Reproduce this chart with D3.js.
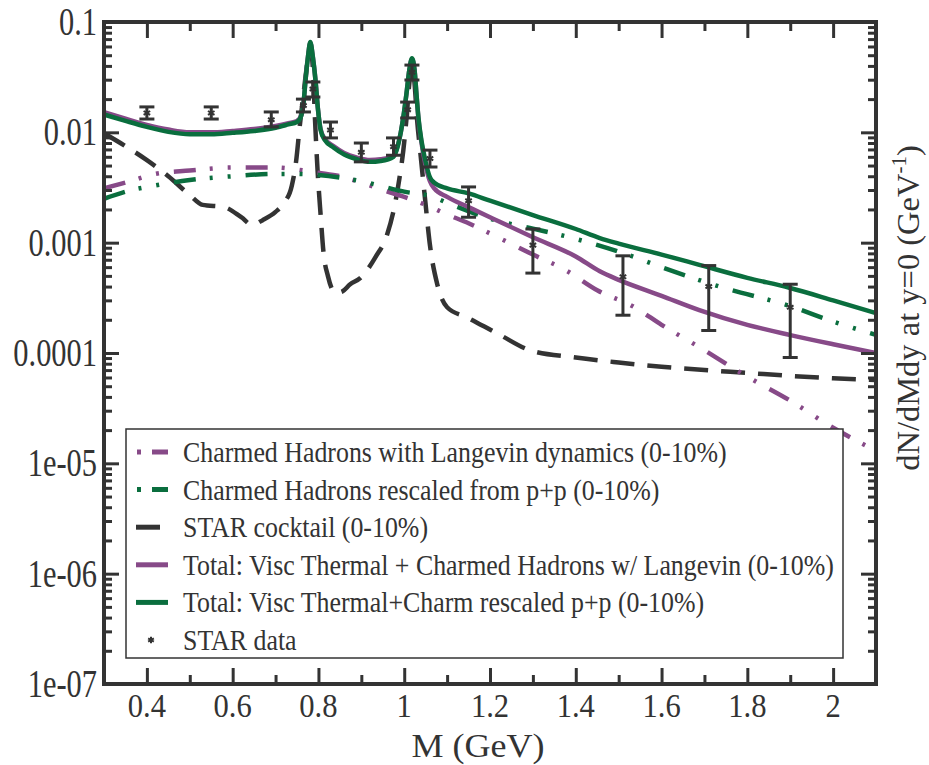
<!DOCTYPE html>
<html>
<head>
<meta charset="utf-8">
<script src="https://cdn.jsdelivr.net/npm/d3@7"></script>
<style>
  body { margin: 0; background: #fff; }
  text { font-family: "Liberation Serif", "Times New Roman", serif; fill: #333; }
</style>
</head>
<body>
<svg id="chart" width="929" height="765"></svg>
<script>
// Dilepton invariant-mass spectra, 0-10% centrality: [M (GeV), dN/dMdy]

const totalLangevin = [
  [0.30, 0.0152], [0.35, 0.0133], [0.40, 0.0117], [0.45, 0.0106], [0.50, 0.0100],
  [0.55, 0.0100], [0.60, 0.0103], [0.65, 0.0107], [0.70, 0.0114], [0.73, 0.0121],
  [0.75, 0.0127], [0.758, 0.0137], [0.765, 0.018], [0.770, 0.030], [0.776, 0.050],
  [0.781, 0.065], [0.787, 0.048], [0.793, 0.030], [0.799, 0.016], [0.805, 0.0107],
  [0.815, 0.0087], [0.835, 0.0075], [0.86, 0.0065], [0.89, 0.0059], [0.92, 0.0056],
  [0.945, 0.0057], [0.975, 0.0061], [0.985, 0.0076], [0.992, 0.0100], [0.998, 0.0138],
  [1.005, 0.022], [1.012, 0.037], [1.018, 0.046], [1.024, 0.037], [1.029, 0.021],
  [1.033, 0.0135], [1.04, 0.0082], [1.049, 0.0052], [1.06, 0.0036], [1.07, 0.0031],
  [1.10, 0.0026], [1.15, 0.0021], [1.20, 0.0017], [1.30, 0.00112], [1.40, 0.00075],
  [1.456, 0.00055], [1.50, 0.00046], [1.60, 0.00033], [1.688, 0.000245], [1.80, 0.00018],
  [1.898, 0.000146], [2.00, 0.00012], [2.10, 0.0001]
];

const totalRescaled = [
  [0.30, 0.0145], [0.35, 0.0127], [0.40, 0.0112], [0.45, 0.0101], [0.50, 0.0096],
  [0.55, 0.0096], [0.60, 0.0099], [0.65, 0.0103], [0.70, 0.0110], [0.73, 0.0118],
  [0.75, 0.0124], [0.758, 0.0135], [0.765, 0.018], [0.770, 0.030], [0.776, 0.050],
  [0.781, 0.066], [0.787, 0.048], [0.793, 0.030], [0.799, 0.016], [0.805, 0.0105],
  [0.815, 0.0085], [0.835, 0.0073], [0.86, 0.0063], [0.89, 0.0057], [0.92, 0.0054],
  [0.945, 0.0055], [0.975, 0.0060], [0.985, 0.0075], [0.992, 0.0100], [0.998, 0.0138],
  [1.005, 0.022], [1.012, 0.037], [1.018, 0.047], [1.024, 0.037], [1.029, 0.021],
  [1.033, 0.0138], [1.04, 0.0085], [1.049, 0.0056], [1.06, 0.0039], [1.07, 0.0035],
  [1.10, 0.0031], [1.15, 0.0028], [1.20, 0.0024], [1.30, 0.00178], [1.40, 0.00133],
  [1.456, 0.0011], [1.50, 0.00098], [1.60, 0.00078], [1.688, 0.00063], [1.80, 0.00048],
  [1.898, 0.00039], [2.00, 0.0003], [2.10, 0.00023]
];

const charmLangevin = [
  [0.30, 0.0031], [0.35, 0.0035], [0.42, 0.0042], [0.50, 0.0045], [0.60, 0.0048],
  [0.70, 0.0048], [0.75, 0.0046], [0.80, 0.0043], [0.85, 0.0040], [0.90, 0.0035],
  [0.95, 0.0030], [1.00, 0.0026], [1.05, 0.0022], [1.10, 0.0018], [1.15, 0.0015],
  [1.212, 0.00115], [1.30, 0.00078], [1.374, 0.00057], [1.45, 0.00037], [1.537, 0.00026],
  [1.60, 0.00018], [1.688, 0.000113], [1.80, 0.000061], [1.90, 0.000037], [2.00, 0.000021],
  [2.10, 0.000013]
];

const charmRescaled = [
  [0.30, 0.0025], [0.35, 0.0029], [0.42, 0.0033], [0.50, 0.0037], [0.60, 0.0040],
  [0.70, 0.0042], [0.75, 0.0042], [0.80, 0.0041], [0.90, 0.0036], [1.00, 0.0029],
  [1.067, 0.0026], [1.10, 0.0023], [1.212, 0.0016], [1.30, 0.00134], [1.393, 0.0011],
  [1.537, 0.00074], [1.60, 0.00060], [1.735, 0.0004], [1.898, 0.000267], [2.00, 0.000193],
  [2.10, 0.000146]
];

const cocktail = [
  [0.30, 0.0098], [0.35, 0.0075], [0.40, 0.0056], [0.45, 0.0040], [0.50, 0.0027],
  [0.53, 0.0022], [0.58, 0.0021], [0.62, 0.0017], [0.645, 0.00145], [0.67, 0.0016],
  [0.70, 0.0019], [0.72, 0.0023], [0.738, 0.0033], [0.748, 0.0055], [0.756, 0.011],
  [0.765, 0.022], [0.774, 0.042], [0.781, 0.058], [0.787, 0.038], [0.792, 0.013],
  [0.798, 0.0045], [0.805, 0.0018], [0.812, 0.0008], [0.822, 0.0005], [0.84, 0.00035],
  [0.855, 0.00036], [0.874, 0.00042], [0.898, 0.00048], [0.933, 0.00074], [0.96, 0.00118],
  [0.979, 0.0023], [0.99, 0.0041], [0.998, 0.0069], [1.005, 0.013], [1.012, 0.028],
  [1.018, 0.040], [1.024, 0.028], [1.030, 0.013], [1.037, 0.0069], [1.049, 0.0024],
  [1.06, 0.00095], [1.077, 0.00042], [1.10, 0.00026], [1.147, 0.00021], [1.223, 0.000146],
  [1.293, 0.000106], [1.40, 0.000091], [1.50, 0.000082], [1.60, 0.000075], [1.70, 0.00007],
  [1.80, 0.000066], [1.90, 0.000062], [2.00, 0.000059], [2.10, 0.000057]
];

// STAR data: [M, value, low, high]
const starData = [
  [0.400, 0.0150, 0.0132, 0.0170],
  [0.550, 0.0150, 0.0132, 0.0170],
  [0.690, 0.0130, 0.0112, 0.0153],
  [0.765, 0.0175, 0.0153, 0.0200],
  [0.787, 0.0247, 0.0209, 0.0286],
  [0.828, 0.0105, 0.0089, 0.0124],
  [0.900, 0.0066, 0.0054, 0.0080],
  [0.975, 0.0074, 0.0062, 0.0089],
  [1.008, 0.0160, 0.0135, 0.0188],
  [1.018, 0.0350, 0.0298, 0.0407],
  [1.060, 0.0058, 0.00485, 0.0069],
  [1.150, 0.0024, 0.0017, 0.0032],
  [1.300, 0.00095, 0.00053, 0.00133],
  [1.510, 0.00049, 0.00022, 0.00076],
  [1.710, 0.00040, 0.00016, 0.00062],
  [1.900, 0.00026, 0.000091, 0.00042]
];

const xTickValues = [0.4, 0.6, 0.8, 1.0, 1.2, 1.4, 1.6, 1.8, 2.0];
const xTickLabels = ["0.4", "0.6", "0.8", "1", "1.2", "1.4", "1.6", "1.8", "2"];
const xMinorValues = [0.3, 0.5, 0.7, 0.9, 1.1, 1.3, 1.5, 1.7, 1.9, 2.1];
const yTickValues = [0.1, 0.01, 0.001, 0.0001, 1e-5, 1e-6, 1e-7];
const yTickLabels = ["0.1", "0.01", "0.001", "0.0001", "1e-05", "1e-06", "1e-07"];

const legendLabels = [
  "Charmed Hadrons with Langevin dynamics (0-10%)",
  "Charmed Hadrons rescaled from p+p (0-10%)",
  "STAR cocktail (0-10%)",
  "Total: Visc Thermal + Charmed Hadrons w/ Langevin (0-10%)",
  "Total: Visc Thermal+Charm rescaled p+p (0-10%)",
  "STAR data"
];

const PURPLE = "#874a88";
const GREEN = "#0a6e3e";
const DARK = "#333333";

const svg = d3.select("#chart");
const plotL = 104, plotR = 876, plotT = 22, plotB = 684;

const x = d3.scaleLinear().domain([0.3, 2.1]).range([plotL, plotR]);
const y = d3.scaleLog().domain([1e-7, 0.1]).range([plotB, plotT]);

svg.append("defs").append("clipPath").attr("id", "plotClip")
  .append("rect").attr("x", plotL).attr("y", plotT)
  .attr("width", plotR - plotL).attr("height", plotB - plotT);

const line = d3.line()
  .x(d => x(d[0])).y(d => y(d[1]))
  .curve(d3.curveMonotoneX);

const plot = svg.append("g").attr("clip-path", "url(#plotClip)");

const dashDotDot = "22,14,3,15,3,15";
const series = [
  { data: cocktail, color: DARK, dash: "24,13" },
  { data: charmLangevin, color: PURPLE, dash: dashDotDot },
  { data: charmRescaled, color: GREEN, dash: dashDotDot },
  { data: totalLangevin, color: PURPLE, dash: null },
  { data: totalRescaled, color: GREEN, dash: null }
];
series.forEach(s => {
  plot.append("path")
    .attr("d", line(s.data))
    .attr("fill", "none")
    .attr("stroke", s.color)
    .attr("stroke-width", 4.5)
    .attr("stroke-dasharray", s.dash)
    .attr("stroke-linejoin", "round");
});

// Error bars with caps and asterisk markers
const capHalf = 7.5;
const bars = plot.append("g").attr("stroke", DARK).attr("stroke-width", 3);
starData.forEach(d => {
  const cx = x(d[0]);
  bars.append("line").attr("x1", cx).attr("x2", cx).attr("y1", y(d[2])).attr("y2", y(d[3]));
  bars.append("line").attr("x1", cx - capHalf).attr("x2", cx + capHalf).attr("y1", y(d[2])).attr("y2", y(d[2]));
  bars.append("line").attr("x1", cx - capHalf).attr("x2", cx + capHalf).attr("y1", y(d[3])).attr("y2", y(d[3]));
});
const star = d3.symbol().type(d3.symbolAsterisk).size(40);
plot.append("g").selectAll("path").data(starData).join("path")
  .attr("d", star)
  .attr("transform", d => `translate(${x(d[0])},${y(d[1])})`)
  .attr("fill", "none").attr("stroke", DARK).attr("stroke-width", 2);

// Axes with inward ticks on all four sides
const yMinor = [];
for (let e = -7; e <= -2; e++) for (let k = 2; k <= 9; k++) yMinor.push(k * Math.pow(10, e));

function styleAxis(g) {
  g.select(".domain").remove();
  g.selectAll(".tick line").attr("stroke", DARK).attr("stroke-width", 3);
  g.selectAll(".tick text").remove();
}
svg.append("g").attr("transform", `translate(0,${plotB})`)
  .call(d3.axisBottom(x).tickValues(xTickValues).tickSize(-16)).call(styleAxis);
svg.append("g").attr("transform", `translate(0,${plotB})`)
  .call(d3.axisBottom(x).tickValues(xMinorValues).tickSize(-9)).call(styleAxis);
svg.append("g").attr("transform", `translate(0,${plotT})`)
  .call(d3.axisTop(x).tickValues(xTickValues).tickSize(-16)).call(styleAxis);
svg.append("g").attr("transform", `translate(0,${plotT})`)
  .call(d3.axisTop(x).tickValues(xMinorValues).tickSize(-9)).call(styleAxis);
svg.append("g").attr("transform", `translate(${plotL},0)`)
  .call(d3.axisLeft(y).tickValues(yTickValues).tickSize(-15)).call(styleAxis);
svg.append("g").attr("transform", `translate(${plotL},0)`)
  .call(d3.axisLeft(y).tickValues(yMinor).tickSize(-8)).call(styleAxis);
svg.append("g").attr("transform", `translate(${plotR},0)`)
  .call(d3.axisRight(y).tickValues(yTickValues).tickSize(-15)).call(styleAxis);
svg.append("g").attr("transform", `translate(${plotR},0)`)
  .call(d3.axisRight(y).tickValues(yMinor).tickSize(-8)).call(styleAxis);

svg.append("rect").attr("x", plotL).attr("y", plotT)
  .attr("width", plotR - plotL).attr("height", plotB - plotT)
  .attr("fill", "none").attr("stroke", DARK).attr("stroke-width", 4);

// Tick labels (narrow serif)
function label(txt, px, py, size, sx, anchor) {
  svg.append("text")
    .attr("transform", `translate(${px},${py}) scale(${sx},1)`)
    .attr("text-anchor", anchor)
    .attr("font-size", size)
    .text(txt);
}
xTickValues.forEach((v, i) => label(xTickLabels[i], x(v), 717, 34, 0.9, "middle"));
yTickValues.forEach((v, i) => label(yTickLabels[i], 97, y(v) + 13, 39, 0.78, "end"));

label("M (GeV)", (plotL + plotR) / 2 - 12, 757, 34, 1.06, "middle");

const yTitle = svg.append("text")
  .attr("transform", "translate(919,308) rotate(-90)")
  .attr("text-anchor", "middle")
  .attr("font-size", 32.5);
yTitle.append("tspan").text("dN/dMdy at y=0 (GeV");
yTitle.append("tspan").attr("font-size", 21).attr("dy", -13).text("-1");
yTitle.append("tspan").attr("dy", 13).text(")");

// Legend
const lg = svg.append("g");
lg.append("rect").attr("x", 126).attr("y", 429).attr("width", 717).attr("height", 229)
  .attr("fill", "#fff").attr("stroke", DARK).attr("stroke-width", 1.5);
const rowY = d => 452 + d * 37.6;
const legendSym = [
  { color: PURPLE, dash: "4,11,16", x1: 137, x2: 168 },
  { color: GREEN, dash: "4,11,16", x1: 137, x2: 168 },
  { color: DARK, dash: null, x1: 136, x2: 160 },
  { color: PURPLE, dash: null, x1: 136, x2: 168 },
  { color: GREEN, dash: null, x1: 136, x2: 168 }
];
legendSym.forEach((s, i) => {
  lg.append("line").attr("x1", s.x1).attr("x2", s.x2).attr("y1", rowY(i)).attr("y2", rowY(i))
    .attr("stroke", s.color).attr("stroke-width", 5).attr("stroke-dasharray", s.dash);
});
lg.append("path").attr("d", d3.symbol().type(d3.symbolAsterisk).size(30)())
  .attr("transform", `translate(151,${rowY(5)})`)
  .attr("fill", "none").attr("stroke", DARK).attr("stroke-width", 2);
legendLabels.forEach((t, i) => {
  lg.append("text")
    .attr("transform", `translate(183,${rowY(i) + 10}) scale(0.877,1)`)
    .attr("font-size", 29.5)
    .text(t);
});
</script>
</body>
</html>
